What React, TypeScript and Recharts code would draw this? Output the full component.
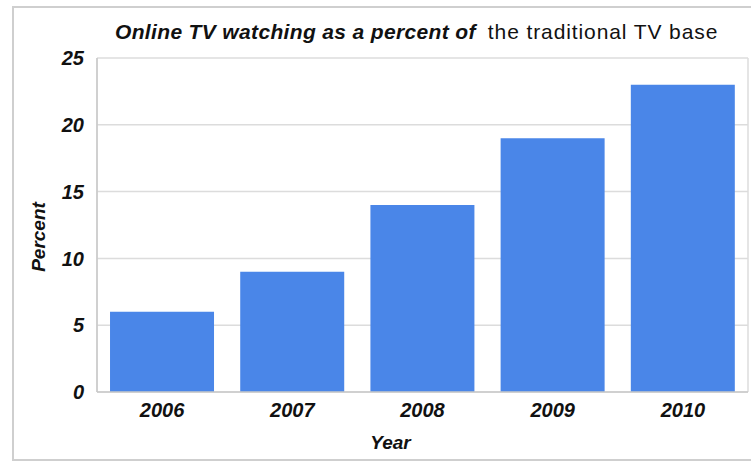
import { BarChart, Bar, XAxis, YAxis, CartesianGrid } from 'recharts';

const years = ['2006', '2007', '2008', '2009', '2010'];
const percents = [6, 9, 14, 19, 23];
const yTicks = [0, 5, 10, 15, 20, 25];

const data = years.map((year, i) => ({ year, percent: percents[i] }));

const font = '"Liberation Sans", Arial, sans-serif';
const tickStyle = { fontSize: 20, fontWeight: 700, fontStyle: 'italic', fill: '#111', fontFamily: font };

export default function App() {
  return (
    <div style={{ position: 'absolute', left: 0, top: 0, width: 751, height: 465, background: '#fff', fontFamily: font }}>
      <div
        style={{
          position: 'absolute',
          left: 12,
          top: 6,
          width: 745,
          height: 455,
          border: '2px solid #cfcfcf',
          boxSizing: 'border-box',
        }}
      />
      <div
        style={{
          position: 'absolute',
          left: 115,
          top: 20,
          fontSize: 21,
          color: '#111',
          whiteSpace: 'nowrap',
        }}
      >
        <span style={{ fontWeight: 700, fontStyle: 'italic', letterSpacing: 0.35 }}>Online TV watching as a percent of</span>
        <span style={{ marginLeft: 12, letterSpacing: 0.9 }}>the traditional TV base</span>
      </div>
      <BarChart
        width={751}
        height={465}
        data={data}
        margin={{ top: 58, right: 3, left: 0, bottom: 0 }}
        barCategoryGap="10%"
        style={{ position: 'absolute', left: 0, top: 0 }}
      >
        <CartesianGrid
          stroke="#dcdcdc"
          strokeWidth={1.5}
          verticalCoordinatesGenerator={({ offset }: any) => [offset.left, offset.left + offset.width]}
        />
        <XAxis
          dataKey="year"
          height={73}
          tickLine={false}
          axisLine={{ stroke: '#c8c8c8', strokeWidth: 1.5 }}
          tick={tickStyle}
          tickMargin={5}
          label={{
            content: ({ viewBox }: any) => (
              <text
                x={viewBox.x + viewBox.width / 2 - 32}
                y={viewBox.y + 57}
                textAnchor="middle"
                style={{ fontSize: 19, fontWeight: 700, fontStyle: 'italic', fill: '#111', fontFamily: font }}
              >
                Year
              </text>
            ),
          }}
        />
        <YAxis
          width={97}
          domain={[0, 25]}
          ticks={yTicks}
          tickLine={false}
          axisLine={{ stroke: '#c8c8c8', strokeWidth: 1.5 }}
          tick={tickStyle}
          tickMargin={7}
          label={{
            content: () => (
              <text
                x={0}
                y={0}
                transform="translate(45, 237) rotate(-90)"
                textAnchor="middle"
                style={{ fontSize: 19, fontWeight: 700, fontStyle: 'italic', fill: '#111', fontFamily: font }}
              >
                Percent
              </text>
            ),
          }}
        />
        <Bar dataKey="percent" fill="#4a86e8" isAnimationActive={false} />
      </BarChart>
    </div>
  );
}
